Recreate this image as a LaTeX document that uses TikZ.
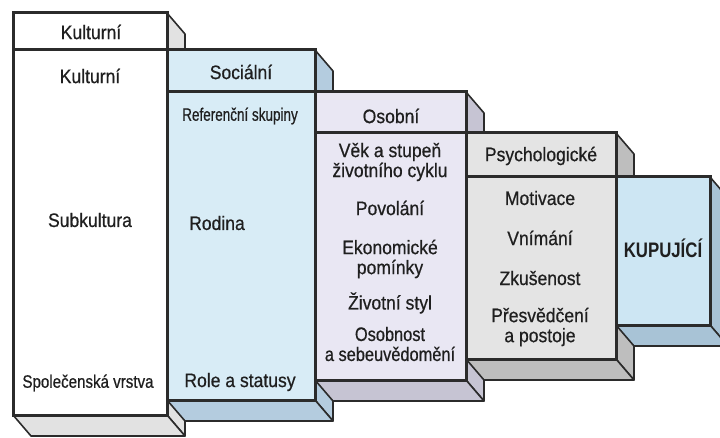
\documentclass[tikz,border=0pt]{standalone}
\usepackage{fontspec}
\setmainfont[FakeStretch=0.9,FakeBold=0.6]{Liberation Sans}
\newfontfamily\narrowfont[FakeStretch=0.75,FakeBold=0.6]{Liberation Sans}
\newfontfamily\semifont[FakeStretch=0.84,FakeBold=0.6]{Liberation Sans}
\newfontfamily\boldcond[FakeStretch=0.8]{Liberation Sans}
\definecolor{edge}{HTML}{2B2B2B}
\definecolor{fA}{HTML}{FFFFFF}\definecolor{sA}{HTML}{E2E2E2}
\definecolor{fB}{HTML}{D8ECF6}\definecolor{sB}{HTML}{B4CCDF}
\definecolor{fC}{HTML}{E9E7F3}\definecolor{sC}{HTML}{C6C4D3}
\definecolor{fD}{HTML}{E4E4E4}\definecolor{sD}{HTML}{BEBEBE}
\definecolor{fE}{HTML}{CDE6F3}\definecolor{sE}{HTML}{A8C3D6}
\newcommand{\mypanel}[6]{% L T R B front side
  \filldraw[sideface,fill=#6] (#3,#2) -- (#3+18,#2+21) -- (#3+18,#4+21) -- (#3,#4) -- cycle;
  \filldraw[sideface,fill=#6] (#1,#4) -- (#3,#4) -- (#3+18,#4+21) -- (#1+18,#4+21) -- cycle;
  \filldraw[frontface,fill=#5] (#1,#2) rectangle (#3,#4);
}
\begin{document}
\begin{tikzpicture}[x=1pt,y=-1pt,
  sideface/.style={draw=edge,line width=1.6pt,line join=round},
  frontface/.style={draw=edge,line width=3pt,line join=miter},
  divider/.style={draw=edge,line width=3pt},
  lbl/.style={inner sep=0pt,align=center,text=black!88,font=\fontsize{19.5}{20}\selectfont},
  narrow/.style={font=\fontsize{18}{20}\narrowfont},
  semi/.style={font=\fontsize{18}{20}\semifont}]
\useasboundingbox (0,0) rectangle (720,438);
\clip (0,0) rectangle (720,438);
% panel 1
\mypanel{13}{13}{167}{415}{fA}{sA}
\draw[divider] (13,50) -- (167,50);
% panel 2
\mypanel{167}{50}{315}{400}{fB}{sB}
\draw[divider] (167,92) -- (315,92);
% panel 3
\mypanel{315}{92}{466}{380}{fC}{sC}
\draw[divider] (315,133) -- (466,133);
% panel 4
\mypanel{466}{133}{616}{359}{fD}{sD}
\draw[divider] (466,177) -- (616,177);
% panel 5
\mypanel{616}{177}{710}{325}{fE}{sE}
% texts panel 1
\node[lbl] (k1) at (91,32) {Kulturní};
\node[lbl] (k2) at (90,76) {Kulturní};
\node[lbl] (k3) at (90,220) {Subkultura};
\node[lbl,semi] (k4) at (88,383) {Společenská vrstva};
% panel 2
\node[lbl] (s1) at (241,72) {Sociální};
\node[lbl,narrow] (s2) at (240,116) {Referenční skupiny};
\node[lbl] (s3) at (217,223) {Rodina};
\node[lbl] (s4) at (240,382) {Role a statusy};
% panel 3
\node[lbl] (o1) at (391,116) {Osobní};
\node[lbl] (o2) at (390,162) {Věk a stupeň\\životního cyklu};
\node[lbl] (o3) at (390,208) {Povolání};
\node[lbl] (o4) at (390,259) {Ekonomické\\pomínky};
\node[lbl] (o5) at (390,303) {Životní styl};
\node[lbl,font=\fontsize{19.5}{20}\semifont] (o6) at (390,344) {Osobnost\\a sebeuvědomění};
% panel 4
\node[lbl] (p1) at (541,156) {Psychologické};
\node[lbl] (p2) at (540,198) {Motivace};
\node[lbl] (p3) at (540,238) {Vnímání};
\node[lbl] (p4) at (540,278) {Zkušenost};
\node[lbl] (p5) at (540,327) {Přesvědčení\\a postoje};
% panel 5
\node[lbl,font=\fontsize{21}{22}\boldcond\bfseries] (kup) at (663,248) {KUPUJÍCÍ};
\end{tikzpicture}
\end{document}
